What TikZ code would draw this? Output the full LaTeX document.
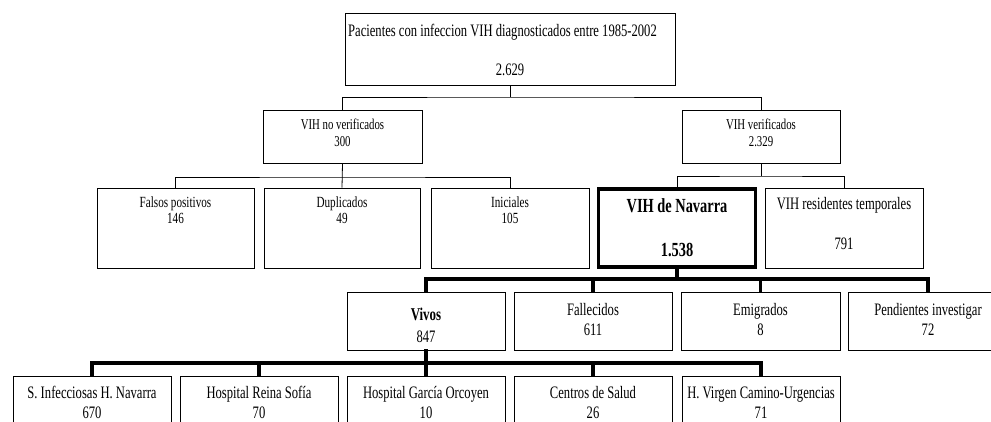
\documentclass[tikz,border=0pt]{standalone}
\usepackage{fontspec}
\setmainfont[FakeStretch=0.72]{Liberation Serif}
\newcommand\fsz[1]{\fontsize{#1}{#1}\selectfont}
\begin{document}
\begin{tikzpicture}[x=1pt,y=-1pt,
  box/.style={draw=black, line width=0.8pt, inner sep=0pt, fill=white},
  heavybox/.style={draw=black, line width=3.5pt, inner sep=0pt, fill=white},
  conn/.style={draw=black, line width=0.8pt},
  heavyconn/.style={draw=black, line width=3.5pt, line cap=rect, line join=miter},
  txt/.style={anchor=base, inner sep=0pt}]
\useasboundingbox (0,0) rectangle (991,422);
\clip (0,0) rectangle (991,422);
\coordinate (j1) at (510,97);
\coordinate (j2) at (342,177);
\coordinate (j3) at (761,176);
\coordinate (j4) at (677,279);
\coordinate (j5) at (426,363);
% boxes
\node[box, minimum width=330pt, minimum height=72pt] (top) at (510,49) {};
\node[box, minimum width=159pt, minimum height=53pt] (nv) at (342.5,136.5) {};
\node[box, minimum width=158pt, minimum height=53pt] (v) at (761,136.5) {};
\node[box, minimum width=157pt, minimum height=80pt] (fp) at (175.5,228) {};
\node[box, minimum width=156pt, minimum height=80pt] (du) at (342,228) {};
\node[box, minimum width=158pt, minimum height=80pt] (in) at (510,228) {};
\node[heavybox, minimum width=157pt, minimum height=78pt] (na) at (677,228) {};
\node[box, minimum width=158pt, minimum height=80pt] (rt) at (844,228) {};
\node[box, minimum width=158pt, minimum height=58pt] (vi) at (426,321) {};
\node[box, minimum width=158pt, minimum height=58pt] (fa) at (593,321) {};
\node[box, minimum width=159pt, minimum height=58pt] (em) at (760.5,321) {};
\node[box, minimum width=160pt, minimum height=58pt] (pe) at (928,321) {};
\node[box, minimum width=158pt, minimum height=80pt] (si) at (92,416) {};
\node[box, minimum width=158pt, minimum height=80pt] (rs) at (259,416) {};
\node[box, minimum width=158pt, minimum height=80pt] (hg) at (426,416) {};
\node[box, minimum width=158pt, minimum height=80pt] (cs) at (593,416) {};
\node[box, minimum width=158pt, minimum height=80pt] (hv) at (761,416) {};
% thin connectors
\draw[conn] (top.south) -- (j1);
\draw[conn] (nv.north) |- (j1) -| (v.north);
\draw[conn] (nv.south) -- (du.north);
\draw[conn] (fp.north) |- (j2) -| (in.north);
\draw[conn] (v.south) -- (j3);
\draw[conn] (na.north) |- (j3) -| (rt.north);
% heavy connectors
\draw[heavyconn] (na.south) -- (j4);
\draw[heavyconn] (vi.north) |- (j4) -| (pe.north);
\draw[heavyconn] (fa.north) -- (fa.north |- j4);
\draw[heavyconn] (em.north) -- (em.north |- j4);
\draw[heavyconn] (vi.south) -- (hg.north);
\draw[heavyconn] (si.north) |- (j5) -| (hv.north);
\draw[heavyconn] (rs.north) -- (rs.north |- j5);
\draw[heavyconn] (cs.north) -- (cs.north |- j5);
% texts
\node[txt, anchor=base west, font=\fsz{17.5}] (ttop1) at (348,37) {Pacientes con infeccion VIH diagnosticados entre 1985-2002};
\node[txt, font=\fsz{17.5}] (ttop2) at (510,76) {2.629};
\node[txt, font=\fsz{15}] (tnv1) at (342.5,130) {VIH no verificados};
\node[txt, font=\fsz{15}] (tnv2) at (342.5,147) {300};
\node[txt, font=\fsz{15}] (tv1) at (761,130) {VIH verificados};
\node[txt, font=\fsz{15}] (tv2) at (761,147) {2.329};
\node[txt, font=\fsz{15.5}] (tfp1) at (175.5,208) {Falsos positivos};
\node[txt, font=\fsz{15.5}] (tfp2) at (175.5,224) {146};
\node[txt, font=\fsz{15.5}] (tdu1) at (342,208) {Duplicados};
\node[txt, font=\fsz{15.5}] (tdu2) at (342,224) {49};
\node[txt, font=\fsz{15.5}] (tin1) at (510,208) {Iniciales};
\node[txt, font=\fsz{15.5}] (tin2) at (510,224) {105};
\node[txt, font=\fsz{20}\bfseries] (tna1) at (677,213) {VIH de Navarra};
\node[txt, font=\fsz{20}\bfseries] (tna2) at (677,257) {1.538};
\node[txt, font=\fsz{17.5}] (trt1) at (844,210) {VIH residentes temporales};
\node[txt, font=\fsz{17.5}] (trt2) at (844,250) {791};
\node[txt, font=\fsz{18}\bfseries] (tvi1) at (426,320) {Vivos};
\node[txt, font=\fsz{17.5}] (tvi2) at (426,342) {847};
\node[txt, font=\fsz{17.5}] (tfa1) at (593,315) {Fallecidos};
\node[txt, font=\fsz{17.5}] (tfa2) at (593,335) {611};
\node[txt, font=\fsz{17.5}] (tem1) at (760.5,315) {Emigrados};
\node[txt, font=\fsz{17.5}] (tem2) at (760.5,335) {8};
\node[txt, font=\fsz{17.5}] (tpe1) at (928,315) {Pendientes investigar};
\node[txt, font=\fsz{17.5}] (tpe2) at (928,335) {72};
\node[txt, font=\fsz{17.5}] (tsi1) at (92,398) {S. Infecciosas H. Navarra};
\node[txt, font=\fsz{17.5}] (tsi2) at (92,418) {670};
\node[txt, font=\fsz{17.5}] (trs1) at (259,398) {Hospital Reina Sofía};
\node[txt, font=\fsz{17.5}] (trs2) at (259,418) {70};
\node[txt, font=\fsz{17.5}] (thg1) at (426,398) {Hospital García Orcoyen};
\node[txt, font=\fsz{17.5}] (thg2) at (426,418) {10};
\node[txt, font=\fsz{17.5}] (tcs1) at (593,398) {Centros de Salud};
\node[txt, font=\fsz{17.5}] (tcs2) at (593,418) {26};
\node[txt, font=\fsz{17.5}] (thv1) at (761,398) {H. Virgen Camino-Urgencias};
\node[txt, font=\fsz{17.5}] (thv2) at (761,418) {71};
\end{tikzpicture}
\end{document}
